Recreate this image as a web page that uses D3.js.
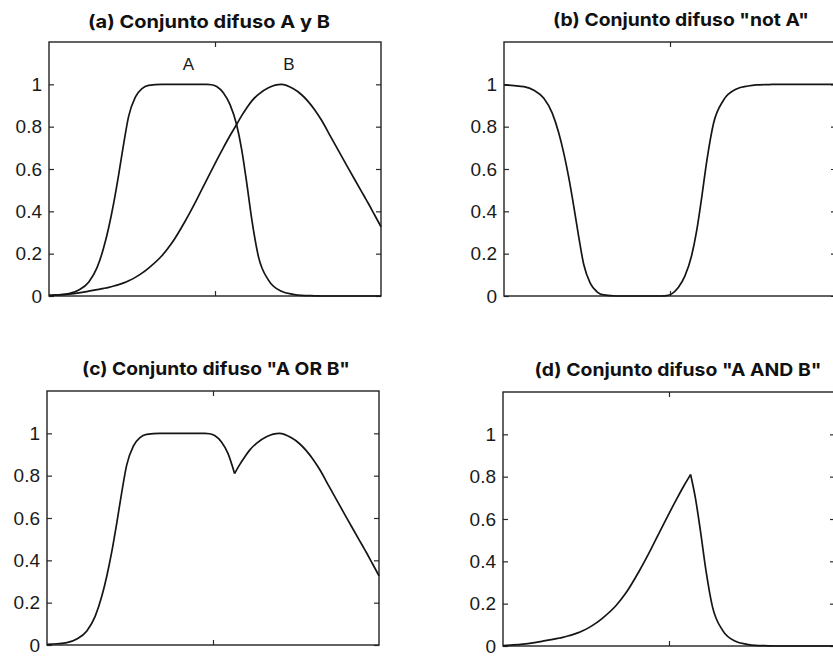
<!DOCTYPE html>
<html>
<head>
<meta charset="utf-8">
<script src="https://cdn.jsdelivr.net/npm/d3@7"></script>
<style>
  html, body { margin: 0; padding: 0; background: #ffffff; }
  svg { display: block; }
  .tick text { font-family: "Liberation Sans", Arial, sans-serif; font-size: 19px; fill: #1a1a1a; }
  .tick line { stroke: #2a2a2a; stroke-width: 1.2; }
  .title { font-family: Inter, "Liberation Sans", sans-serif; font-weight: 700; font-size: 18px; fill: #111; }
  .setlabel { font-family: "Liberation Sans", Arial, sans-serif; font-size: 17px; fill: #1a1a1a; }
</style>
</head>
<body>
<script>
// Universe of discourse (0..100) and the membership grades of the two fuzzy sets
const xs  = [0, 3, 6, 9, 12, 14.5, 16.5, 18, 19.5, 21, 22.5, 24, 26, 28, 30, 34, 37, 41, 44.5, 47.5,
             49, 50.5, 52.5, 54.5, 56.5, 58, 59.5, 61.1, 63.1, 66.1, 70, 73.5, 76, 80, 82.1, 85, 87.1,
             90, 92.2, 95, 96.2, 98, 100];
const muA = [0.003, 0.006, 0.011, 0.028, 0.066, 0.135, 0.23, 0.325, 0.44, 0.575, 0.72, 0.85, 0.94, 0.98, 0.995, 1.0, 1.0, 1.0, 1.0, 1.0,
             0.998, 0.99, 0.96, 0.905, 0.81, 0.695, 0.54, 0.36, 0.185, 0.075, 0.022, 0.008, 0.003, 0.001, 0, 0, 0,
             0, 0, 0, 0, 0, 0];
const muB = [0.002, 0.005, 0.009, 0.015, 0.023, 0.030, 0.036, 0.041, 0.047, 0.054, 0.062, 0.072, 0.088, 0.108, 0.132, 0.19, 0.25, 0.353, 0.455, 0.549,
             0.595, 0.641, 0.70, 0.757, 0.81, 0.851, 0.887, 0.922, 0.953, 0.984, 1.0, 0.98, 0.952, 0.88, 0.83, 0.748, 0.689,
             0.608, 0.547, 0.47, 0.437, 0.385, 0.327];
const xTicks = [50];
const yTicks = [0, 0.2, 0.4, 0.6, 0.8, 1];
const titles = ['(a) Conjunto difuso A y B', '(b) Conjunto difuso "not A"',
                '(c) Conjunto difuso "A OR B"', '(d) Conjunto difuso "A AND B"'];
const setLabels = [{ text: 'A', x: 42, y: 1.066 }, { text: 'B', x: 72.3, y: 1.066 }];

// Complement of A
const notA = muA.map(v => 1 - v);

// Union / intersection split into runs by which set is active, so the
// crossing point stays a sharp corner.
function envelopeRuns(fn) {
  const runs = [];
  let run = [], src = null;
  xs.forEach((x, i) => {
    const a = muA[i], b = muB[i], y = fn(a, b);
    const s = a === b ? src : (y === a ? 'A' : 'B');
    if (src !== null && s !== src) { runs.push(run); run = [run[run.length - 1]]; }
    run.push([x, y]);
    src = s;
  });
  runs.push(run);
  return runs;
}
const zip = arr => xs.map((x, i) => [x, arr[i]]);

// Panel frames
const W = 332, H = 254;
const panels = [
  { left: 49,  top: 42,  title: titles[0], tx: 209, ty: 28,  tw: 242, series: [zip(muA), zip(muB)], labels: true },
  { left: 504, top: 42,  title: titles[1], tx: 681, ty: 26,  tw: 256, series: [zip(notA)] },
  { left: 47,  top: 391, title: titles[2], tx: 216, ty: 375, tw: 268, series: envelopeRuns(Math.max) },
  { left: 503, top: 392, title: titles[3], tx: 678, ty: 376, tw: 287, series: envelopeRuns(Math.min) }
];

const svg = d3.select('body').append('svg').attr('width', 833).attr('height', 656);

panels.forEach(p => {
  const x = d3.scaleLinear().domain([0, 100]).range([0, W]);
  const y = d3.scaleLinear().domain([0, 1.2]).range([H, 0]);
  const g = svg.append('g').attr('transform', `translate(${p.left},${p.top})`);

  g.append('g').call(d3.axisLeft(y).tickValues(yTicks).tickSizeInner(-5).tickSizeOuter(0).tickPadding(7)
      .tickFormat(d => d3.format('~g')(d)))
    .call(a => a.select('.domain').remove());
  g.append('g').attr('transform', `translate(${W},0)`)
    .call(d3.axisRight(y).tickValues(yTicks).tickSizeInner(-5).tickSizeOuter(0).tickFormat(''))
    .call(a => a.select('.domain').remove());
  g.append('g').attr('transform', `translate(0,${H})`)
    .call(d3.axisBottom(x).tickValues(xTicks).tickSizeInner(-5).tickSizeOuter(0).tickFormat(''))
    .call(a => a.select('.domain').remove());
  g.append('g')
    .call(d3.axisTop(x).tickValues(xTicks).tickSizeInner(-5).tickSizeOuter(0).tickFormat(''))
    .call(a => a.select('.domain').remove());

  g.append('rect').attr('width', W).attr('height', H)
    .attr('fill', 'none').attr('stroke', '#222').attr('stroke-width', 1.4);

  const line = d3.line().x(d => x(d[0])).y(d => y(d[1])).curve(d3.curveMonotoneX);
  g.selectAll('path.curve').data(p.series).join('path')
    .attr('class', 'curve')
    .attr('d', line)
    .attr('fill', 'none').attr('stroke', '#151515').attr('stroke-width', 1.7)
    .attr('stroke-linejoin', 'round');

  if (p.labels) {
    g.selectAll('text.setlabel').data(setLabels).join('text')
      .attr('class', 'setlabel')
      .attr('x', d => x(d.x)).attr('y', d => y(d.y))
      .attr('text-anchor', 'middle')
      .text(d => d.text);
  }

  svg.append('text').attr('class', 'title')
    .attr('x', p.tx).attr('y', p.ty)
    .attr('text-anchor', 'middle')
    .attr('textLength', p.tw).attr('lengthAdjust', 'spacingAndGlyphs')
    .text(p.title);
});
</script>
</body>
</html>
